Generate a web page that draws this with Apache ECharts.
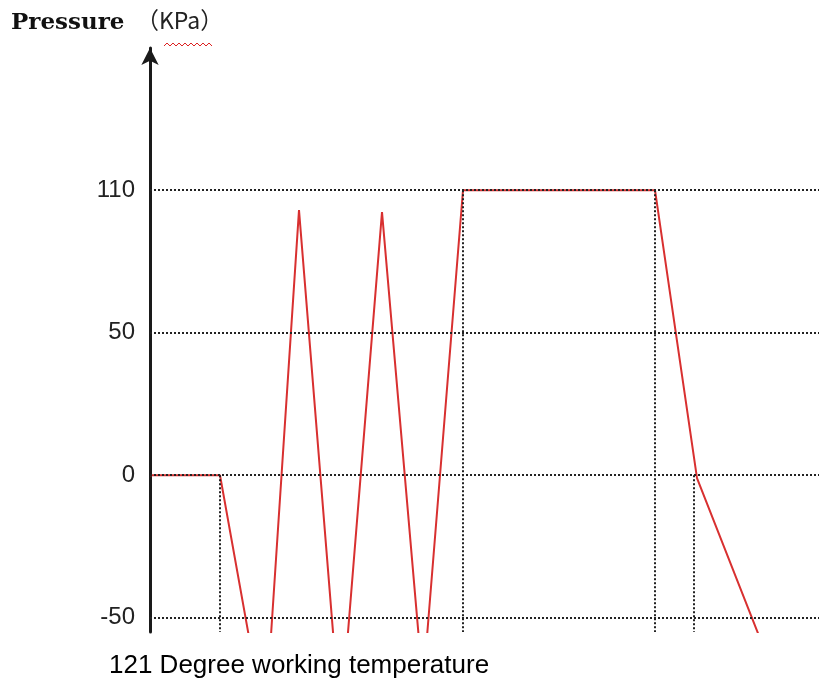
<!DOCTYPE html>
<html>
<head>
<meta charset="utf-8">
<script src="https://cdn.jsdelivr.net/npm/echarts@6/dist/echarts.min.js"></script>
<style>
  html, body { margin: 0; padding: 0; background: #fff; }
  #chart { width: 819px; height: 688px; }
</style>
</head>
<body>
<div id="chart"></div>
<script>
// time axis is unitless (no labels in the original), pressure in plot units
const timePoints = [0, 7, 11.5, 14.9, 19.05, 23.2, 27.3, 31.3, 50.5, 54.7, 64]
const pressure = [0, 0, -88, 93, -87.6, 92.3, -74, 100, 100, -1, -84]

const yTickValues = [-50, 0, 50, 100]
const yTickLabels = ['-50', '0', '50', '110']

// dotted guide lines dropped from the curve
const guideX = [7, 31.3, 50.5, 54.4]
const guideTop = [0, 100, 100, 0]

const yMin = -55
const yMax = 149.9

const chart = echarts.init(document.getElementById('chart'))

const dotted = {
  color: '#222',
  width: 2,
  type: [2, 2]
}

const guideLines = yTickValues.map((v) => ({ yAxis: v }))
guideX.forEach((x, i) => {
  guideLines.push([{ coord: [x, guideTop[i]] }, { coord: [x, yMin] }])
})

// little squiggle under "KPa" like the word processor drew it
const squiggle = []
for (let i = 0; i <= 16; i++) {
  squiggle.push([164 + i * 3, i % 2 ? 43 : 46])
}

const option = {
  animation: false,
  grid: {
    left: 150,
    right: 0,
    top: 48,
    bottom: 56
  },
  xAxis: {
    type: 'value',
    min: 0,
    max: 66.9,
    show: false
  },
  yAxis: {
    type: 'value',
    min: yMin,
    max: yMax,
    axisLine: {
      show: true,
      symbol: ['none', 'arrow'],
      symbolSize: [13, 17],
      lineStyle: { color: '#1a1a1a', width: 3 }
    },
    axisTick: { show: false },
    splitLine: { show: false },
    axisLabel: {
      customValues: yTickValues,
      margin: 15,
      color: '#222',
      fontSize: 24,
      fontFamily: 'Liberation Sans',
      formatter: (v) => yTickLabels[yTickValues.indexOf(v)]
    }
  },
  graphic: {
    elements: [
      {
        type: 'text',
        left: 11,
        top: 12,
        style: {
          text: 'Pressure',
          fill: '#111',
          font: 'bold 23px "DejaVu Serif"'
        }
      },
      {
        type: 'text',
        left: 136,
        top: 9,
        style: {
          text: '（KPa）',
          fill: '#222',
          font: '23px "Noto Sans CJK SC"'
        }
      },
      {
        type: 'polyline',
        shape: { points: squiggle },
        style: { stroke: '#d22', lineWidth: 1, fill: null }
      }
    ]
  },
  title: {
    text: '121 Degree working temperature',
    left: 104,
    top: 648,
    textStyle: {
      color: '#000',
      fontSize: 26,
      fontWeight: 'normal',
      fontFamily: 'Liberation Sans'
    }
  },
  series: [
    {
      type: 'line',
      data: [],
      z: 1,
      silent: true,
      markLine: {
        silent: true,
        symbol: 'none',
        label: { show: false },
        lineStyle: dotted,
        data: guideLines
      }
    },
    {
      type: 'line',
      z: 3,
      data: timePoints.map((t, i) => [t, pressure[i]]),
      showSymbol: false,
      clip: true,
      lineStyle: { color: '#d83030', width: 2 }
    }
  ]
}

chart.setOption(option)
</script>
</body>
</html>
